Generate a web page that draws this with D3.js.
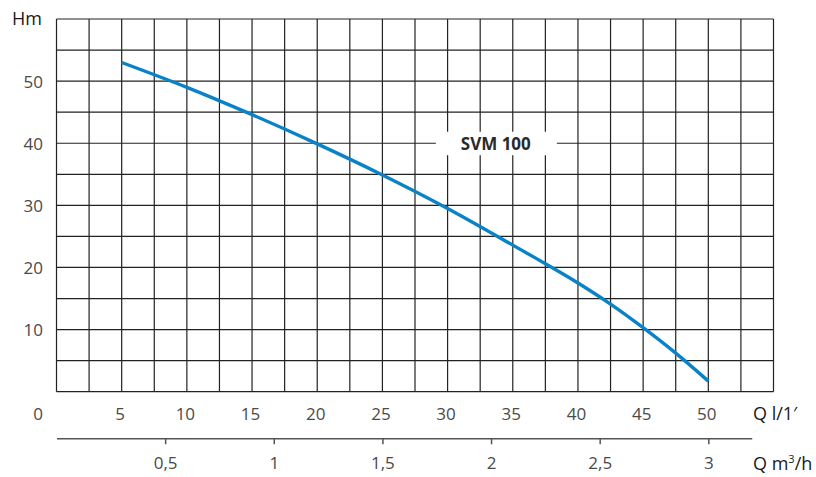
<!DOCTYPE html>
<html><head><meta charset="utf-8">
<script src="https://cdn.jsdelivr.net/npm/d3@7"></script>
<style>
html,body{margin:0;padding:0;background:#fff;}
svg{display:block;font-family:"Open Sans",sans-serif;}
</style></head>
<body>
<script>
const flowLmin = [5, 10, 15, 20, 25, 30, 35, 37.5, 40, 42.5, 45, 47.5, 50];
const headM    = [53, 49, 44.6, 39.9, 34.9, 29.5, 23.6, 20.6, 17.5, 14.1, 10.3, 6.2, 1.7];
const xTickValues = [5, 10, 15, 20, 25, 30, 35, 40, 45, 50];
const yTickValues = [10, 20, 30, 40, 50];
const m3hTickValues = [0.5, 1, 1.5, 2, 2.5, 3];
const seriesLabel = "SVM 100";

const W = 816, H = 477;
const svg = d3.select("body").append("svg").attr("width", W).attr("height", H);

const x = d3.scaleLinear().domain([0, 55]).range([56.5, 773.5]);
const y = d3.scaleLinear().domain([0, 60]).range([391.7, 19]);
const x2 = d3.scaleLinear().domain([0, 3.2]).range([x(0), x(3.2 / 0.06)]);

// grid
const g = svg.append("g");
g.selectAll("line.v").data(d3.range(0, 55.001, 2.5)).join("line")
  .attr("x1", d => x(d)).attr("x2", d => x(d))
  .attr("y1", y(60)).attr("y2", y(0))
  .attr("stroke", "#222").attr("stroke-width", 1.2);
g.selectAll("line.h").data(d3.range(0, 60.001, 5)).join("line")
  .attr("x1", x(0)).attr("x2", x(55))
  .attr("y1", d => y(d)).attr("y2", d => y(d))
  .attr("stroke", "#222").attr("stroke-width", 1.2);

// label box
const lx = x(33.7), ly = y(40);
svg.append("rect").attr("x", lx - 60).attr("y", ly - 11.5)
  .attr("width", 121).attr("height", 23.5).attr("fill", "#fff");
svg.append("text").attr("x", lx).attr("y", ly + 6.5)
  .attr("text-anchor", "middle").attr("font-weight", "bold")
  .attr("font-size", 17).attr("fill", "#2a2a2a").text(seriesLabel);

// curve
const pts = flowLmin.map((q, i) => [q, headM[i]]);
svg.append("path").datum(pts)
  .attr("d", d3.line().x(d => x(d[0])).y(d => y(d[1])).curve(d3.curveCatmullRom.alpha(0.5)))
  .attr("fill", "none").attr("stroke", "#0a82c8").attr("stroke-width", 3.4)
  .attr("stroke-linecap", "butt");

// y labels
svg.selectAll("text.yl").data(yTickValues).join("text")
  .attr("x", x(0) - 13.5).attr("y", d => y(d) + 6.5)
  .attr("text-anchor", "end").attr("font-size", 17).attr("fill", "#4a4a4a")
  .text(d => d);
svg.append("text").attr("x", x(0) - 13.5).attr("y", 419.5)
  .attr("text-anchor", "end").attr("font-size", 17).attr("fill", "#4a4a4a").text("0");
svg.append("text").attr("x", 12).attr("y", 24.5)
  .attr("font-size", 18).attr("fill", "#1a1a1a").text("Hm");

// x labels (l/min)
svg.selectAll("text.xl").data(xTickValues).join("text")
  .attr("x", d => x(d) - 1.5).attr("y", 419.5)
  .attr("text-anchor", "middle").attr("font-size", 17).attr("fill", "#4a4a4a")
  .text(d => d);
svg.append("text").attr("x", 753).attr("y", 419.5)
  .attr("font-size", 18).attr("fill", "#1a1a1a").text("Q l/1′");

// second axis (m3/h)
const ax = svg.append("g").attr("transform", "translate(0,438.3)")
  .call(d3.axisBottom(x2).tickValues(m3hTickValues).tickSize(6).tickSizeOuter(0)
    .tickFormat(d => String(d).replace(".", ",")));
ax.attr("font-family", null).attr("font-size", null);
ax.select(".domain").attr("stroke", "#555").attr("stroke-width", 1.5);
ax.selectAll(".tick line").attr("stroke", "#555").attr("stroke-width", 1.5);
ax.selectAll(".tick text").attr("font-size", 17).attr("fill", "#4a4a4a")
  .attr("dy", null).attr("y", 31);
const ql = svg.append("text").attr("x", 753).attr("y", 469.5)
  .attr("font-size", 18).attr("fill", "#1a1a1a");
ql.append("tspan").text("Q m");
ql.append("tspan").attr("font-size", 11).attr("dy", -7).text("3");
ql.append("tspan").attr("dy", 7).text("/h");
</script>
</body></html>
